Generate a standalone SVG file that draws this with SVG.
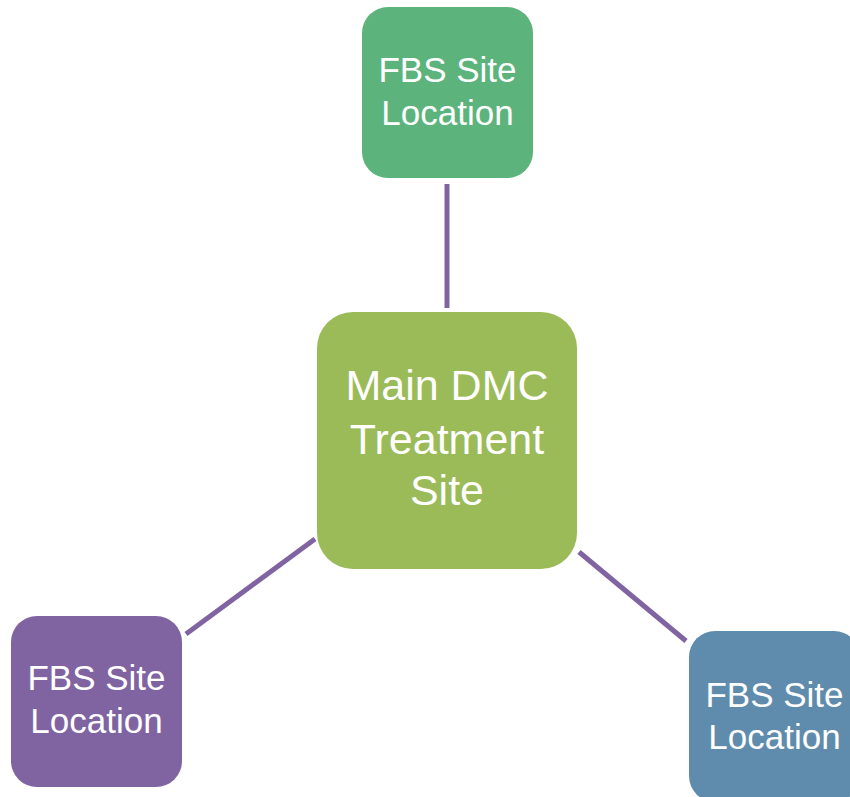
<svg xmlns="http://www.w3.org/2000/svg" width="850" height="797" viewBox="0 0 850 797">
<style>
.lbl{font-family:"Liberation Sans",Arial,sans-serif;fill:#fff;text-anchor:middle}
.sm{font-size:35px}
.lg{font-size:43px}
.conn{stroke:#8064A2;stroke-width:5;fill:none}
</style>
<rect width="850" height="797" fill="#fff"/>
<g id="connectors">
<line class="conn" x1="447" y1="184" x2="447" y2="308"/>
<line class="conn" x1="186" y1="634" x2="315" y2="539"/>
<line class="conn" x1="579" y1="552" x2="686" y2="641"/>
</g>
<g id="node-top">
<rect x="362" y="7" width="171" height="171" rx="26" fill="#5CB37C"/>
<text class="lbl sm" x="447.5" y="82">FBS Site</text>
<text class="lbl sm" x="447.5" y="125">Location</text>
</g>
<g id="node-center">
<rect x="317" y="312" width="260" height="257" rx="36" fill="#9BBB59"/>
<text class="lbl lg" x="447" y="400">Main DMC</text>
<text class="lbl lg" x="447" y="454">Treatment</text>
<text class="lbl lg" x="447" y="505">Site</text>
</g>
<g id="node-left">
<rect x="11" y="616" width="171" height="171" rx="26" fill="#8064A2"/>
<text class="lbl sm" x="96.5" y="690">FBS Site</text>
<text class="lbl sm" x="96.5" y="733">Location</text>
</g>
<g id="node-right">
<rect x="689" y="631" width="171" height="171" rx="26" fill="#5F8CAD"/>
<text class="lbl sm" x="774.5" y="707">FBS Site</text>
<text class="lbl sm" x="774.5" y="749">Location</text>
</g>
</svg>
